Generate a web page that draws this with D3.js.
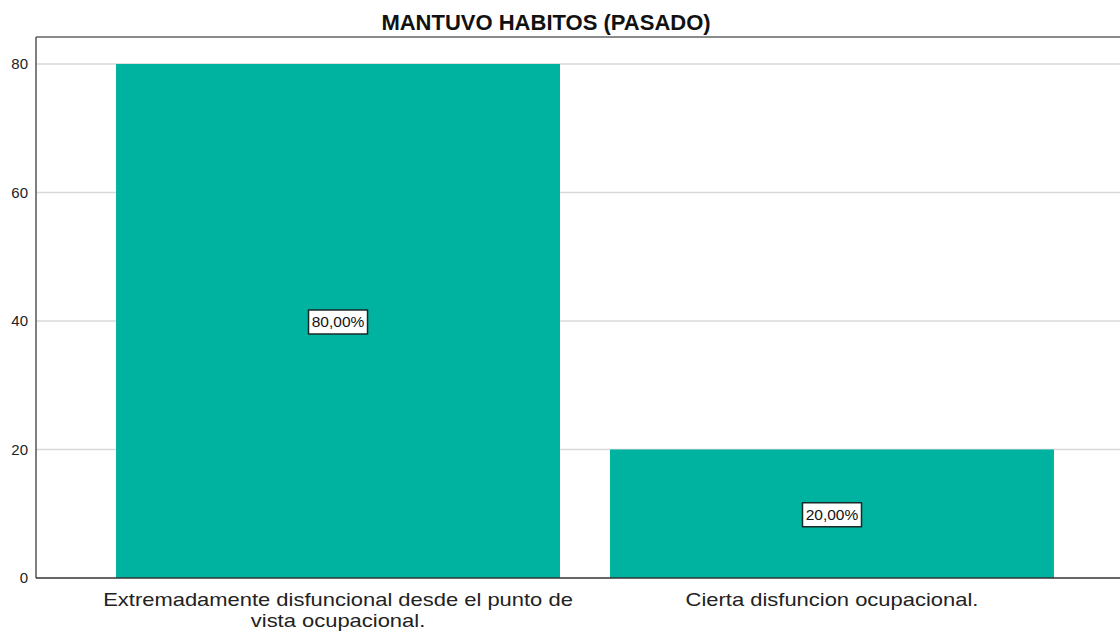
<!DOCTYPE html>
<html>
<head>
<meta charset="utf-8">
<script src="https://cdn.jsdelivr.net/npm/d3@7"></script>
<style>
  body { margin: 0; background: #fff; }
  svg { display: block; font-family: Arial, "Liberation Sans", sans-serif; }
</style>
</head>
<body>
<svg id="chart"></svg>
<script>
// chart data
var categories = ["Extremadamente disfuncional desde el punto de vista ocupacional.", "Cierta disfuncion ocupacional."];
var categoryLines = [["Extremadamente disfuncional desde el punto de", "vista ocupacional."], ["Cierta disfuncion ocupacional."]];
var counts = [80, 20];
var percentLabels = ["80,00%", "20,00%"];
var yTicks = [0, 20, 40, 60, 80];
var title = "MANTUVO HABITOS (PASADO)";

var width = 1120, height = 632;
var margin = {top: 37, left: 36, bottom: 54};
var labelStretch = 1.22; // reference labels are wider than the font

var svg = d3.select("#chart")
    .attr("width", width)
    .attr("height", height);

var x = d3.scaleBand()
    .domain(categories)
    .range([margin.left, 1134])
    .paddingInner(0.1012)
    .paddingOuter(0.162);

var y = d3.scaleLinear()
    .domain([0, 84.2])
    .range([height - margin.bottom, margin.top]);

// gridlines
svg.append("g")
    .selectAll("line")
    .data(yTicks.filter(function (d) { return d > 0; }))
    .enter()
    .append("line")
    .attr("x1", margin.left)
    .attr("x2", width)
    .attr("y1", function (d) { return y(d); })
    .attr("y2", function (d) { return y(d); })
    .attr("stroke", "#d9d9d9")
    .attr("stroke-width", 1.5);

// bars
var data = categories.map(function (c, i) {
    return {cat: c, count: counts[i], pct: percentLabels[i], lines: categoryLines[i]};
});

svg.selectAll(".bar")
    .data(data)
    .enter()
    .append("rect")
    .attr("class", "bar")
    .attr("x", function (d) { return x(d.cat); })
    .attr("y", function (d) { return y(d.count); })
    .attr("width", x.bandwidth())
    .attr("height", function (d) { return y(0) - y(d.count); })
    .attr("fill", "#00b3a0");

// top frame line
svg.append("line")
    .attr("x1", margin.left)
    .attr("x2", width)
    .attr("y1", margin.top)
    .attr("y2", margin.top)
    .attr("stroke", "#8a8a8a")
    .attr("stroke-width", 2);

// y axis
var yAxis = d3.axisLeft(y)
    .tickValues(yTicks)
    .tickSize(0)
    .tickPadding(8);

var yg = svg.append("g")
    .attr("transform", "translate(" + margin.left + ",0)")
    .call(yAxis);
yg.select(".domain")
    .attr("d", "M0," + margin.top + "V" + y(0))
    .attr("stroke", "#555")
    .attr("stroke-width", 1.5);
yg.selectAll("text")
    .attr("font-size", 15)
    .attr("fill", "#222")
    .attr("font-family", "Arial, 'Liberation Sans', sans-serif");

// x axis line
svg.append("line")
    .attr("x1", margin.left)
    .attr("x2", width)
    .attr("y1", y(0))
    .attr("y2", y(0))
    .attr("stroke", "#333")
    .attr("stroke-width", 1.5);

// x category labels (drawn narrow, then stretched horizontally)
var xl = svg.selectAll(".xlabel")
    .data(data)
    .enter()
    .append("text")
    .attr("class", "xlabel")
    .attr("text-anchor", "middle")
    .attr("font-size", 18)
    .attr("fill", "#222")
    .attr("transform", function (d) {
        var cx = x(d.cat) + x.bandwidth() / 2;
        return "translate(" + cx + ",0) scale(" + labelStretch + ",1)";
    });
xl.selectAll("tspan")
    .data(function (d) { return d.lines; })
    .enter()
    .append("tspan")
    .attr("x", 0)
    .attr("y", function (d, i) { return y(0) + 28 + i * 21; })
    .text(function (d) { return d; });

// value labels in boxes
var vl = svg.selectAll(".vlabel")
    .data(data)
    .enter()
    .append("g")
    .attr("class", "vlabel")
    .attr("transform", function (d) {
        return "translate(" + (x(d.cat) + x.bandwidth() / 2) + "," + y(d.count / 2) + ")";
    });
vl.append("rect")
    .attr("x", -29.5)
    .attr("y", -11)
    .attr("width", 59)
    .attr("height", 24)
    .attr("fill", "#fff")
    .attr("stroke", "#1a2a28")
    .attr("stroke-width", 1.5);
vl.append("text")
    .attr("text-anchor", "middle")
    .attr("dy", "0.38em")
    .attr("font-size", 15.5)
    .attr("fill", "#111")
    .text(function (d) { return d.pct; });

// title
svg.append("text")
    .attr("x", 546)
    .attr("y", 30)
    .attr("text-anchor", "middle")
    .attr("font-size", 22)
    .attr("font-weight", "bold")
    .attr("fill", "#111")
    .text(title);
</script>
</body>
</html>
